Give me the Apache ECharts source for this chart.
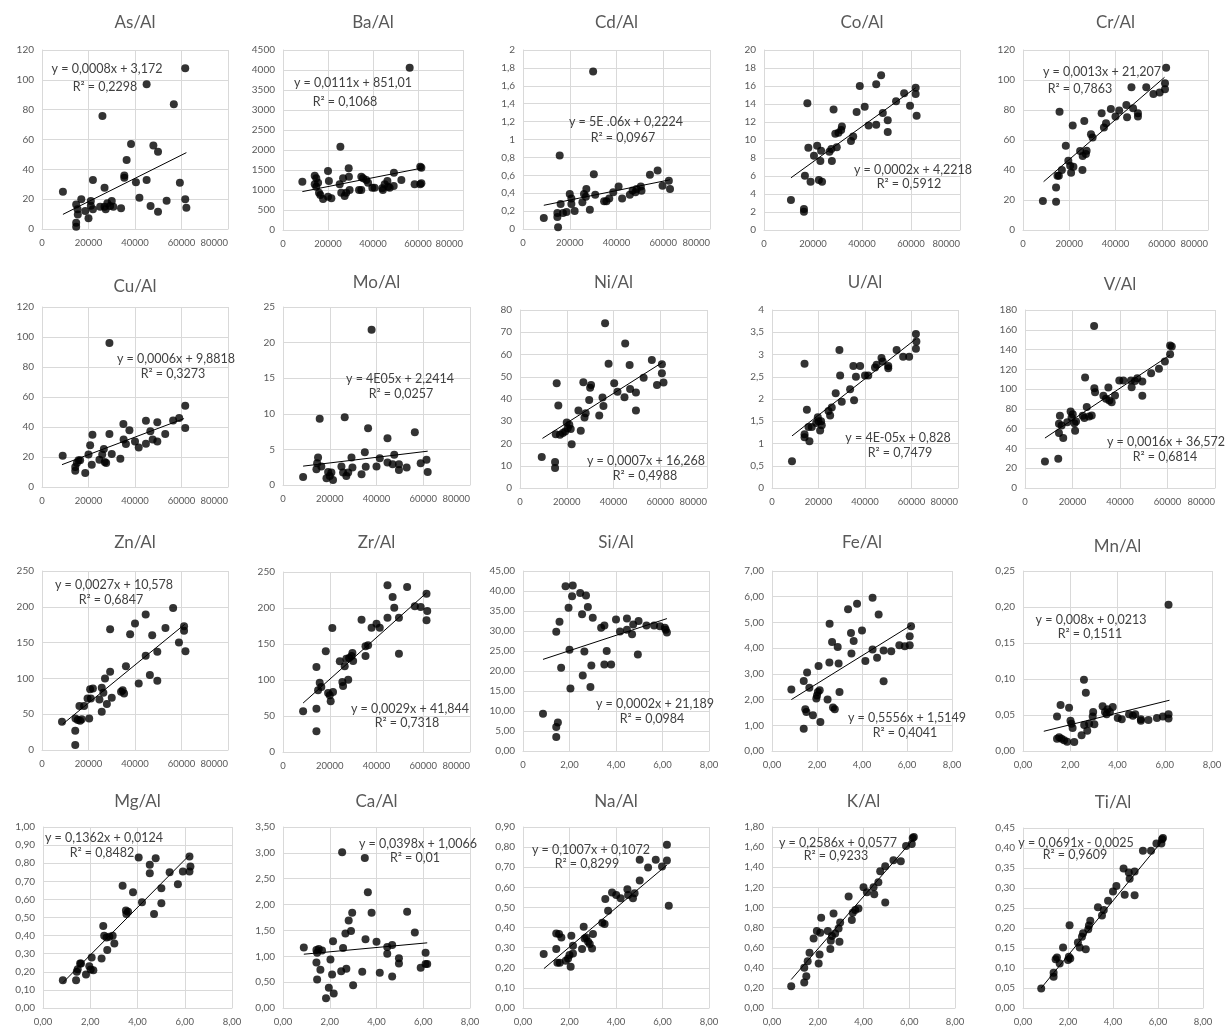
<!DOCTYPE html>
<html><head><meta charset="utf-8">
<script src="https://cdn.jsdelivr.net/npm/echarts@6/dist/echarts.min.js"></script>
<style>html,body{margin:0;padding:0;background:#fff}#c{width:1228px;height:1030px}</style>
</head><body><div id="c"></div><script>
// ---------- DATA ----------
const names = ['As/Al','Ba/Al','Cd/Al','Co/Al','Cr/Al','Cu/Al','Mo/Al','Ni/Al','U/Al','V/Al','Zn/Al','Zr/Al','Si/Al','Fe/Al','Mn/Al','Mg/Al','Ca/Al','Na/Al','K/Al','Ti/Al'];

const asAl = [[9000,25],[14700,4.2],[14700,1.5],[14700,16.5],[15400,9.8],[15300,13.2],[16900,19.9],[18600,12],[20000,7.2],[21000,18.8],[21000,15.6],[21900,32.8],[21900,13.2],[25000,15],[26000,75.8],[26900,27.7],[26900,15],[27400,13.2],[28100,17.2],[29300,15.4],[30000,18.8],[30700,15],[34000,13.9],[35400,35.8],[35400,34.4],[36400,46.3],[38300,57],[40400,31.3],[41900,21],[45000,32.8],[45000,97],[46700,15.4],[47900,55.9],[49900,51.8],[49900,11.6],[53600,19],[56700,83.6],[59300,31],[61600,107.7],[61600,19.9],[62100,14.3]];
const baAl = [[8600,1208],[14100,1358],[14800,1292],[14100,1142],[14800,1083],[15600,1183],[16000,933],[16600,875],[17800,775],[20000,1475],[20400,1225],[20000,833],[21500,792],[25500,2083],[25200,1142],[25900,933],[26700,1292],[27400,850],[28100,933],[29200,1542],[29300,1333],[29600,1000],[33800,1000],[34800,1000],[34800,1333],[35600,1292],[37000,1250],[37800,1183],[39700,1058],[40700,1058],[44100,1042],[45200,1142],[44400,1000],[46400,1225],[46700,1083],[47400,1058],[49300,1433],[49200,1100],[52600,1250],[56300,4058],[58500,1142],[61000,1142],[61000,1583],[61500,1558],[61500,1170]];
const cdAl = [[8900,0.123],[14700,0.134],[14700,0.178],[15000,0.02],[15700,0.82],[16100,0.28],[17100,0.178],[18600,0.19],[20000,0.39],[20700,0.34],[20700,0.28],[22100,0.2],[25400,0.30],[26100,0.39],[27100,0.446],[26900,0.36],[28600,0.215],[30000,1.76],[30300,0.613],[30900,0.383],[34700,0.31],[35700,0.31],[36900,0.34],[38600,0.41],[40900,0.476],[42400,0.34],[45700,0.383],[46900,0.43],[48100,0.41],[48600,0.446],[50400,0.476],[50700,0.428],[54300,0.606],[57600,0.654],[59700,0.483],[62400,0.539],[62900,0.446]];
const coAl = [[11000,3.33],[16300,2.33],[16300,2.04],[16700,6.04],[17700,14.07],[18100,9.15],[19000,5.37],[20400,8.26],[21700,9.37],[22400,5.56],[23000,7.67],[23300,8.81],[23700,5.37],[26700,8.7],[27500,9.0],[27700,7.67],[28400,13.4],[29100,10.7],[29700,9.2],[30400,10.8],[31500,11.1],[31800,11.5],[35500,9.9],[36400,10.4],[37800,13.1],[39100,16.0],[41100,13.7],[42700,11.6],[45800,16.2],[45800,11.7],[47800,17.2],[48500,13.0],[50500,12.2],[50500,10.9],[53900,14.3],[57200,15.2],[59600,13.8],[61900,15.8],[61900,15.1],[62300,12.7]];
const crAl = [[8600,19.3],[14300,18.9],[14300,28.4],[14900,36.2],[15500,36.2],[15800,78.9],[16800,40],[18500,56.2],[19600,46.2],[20400,42.9],[20800,38.2],[21500,69.6],[21800,42.2],[24700,52.7],[25700,40],[25800,49.3],[26500,72.7],[27200,50.7],[27500,52.9],[29400,63.8],[30100,61.6],[34000,77.8],[35000,68.4],[35900,71.1],[38000,80.7],[40000,75.6],[41600,79.6],[44700,83.3],[45000,75.1],[46900,95.1],[47600,81.1],[49700,77.8],[49700,75.6],[53300,95.1],[56400,90.7],[59100,91.6],[61400,97.8],[61400,93.8],[61900,108.2]];
const cuAl = [[8900,20.9],[14300,13.3],[14300,10.9],[15000,16],[15700,17.8],[16400,17.8],[18600,9.3],[20000,21.6],[20700,27.8],[21400,14.9],[21700,34.9],[24700,18.2],[25900,21.6],[26600,25.3],[27000,16.7],[27600,16],[29000,35.3],[30000,22],[29000,96],[33700,18.9],[35000,42],[35100,31.6],[36100,28.7],[37600,37.8],[40000,30.4],[41600,26.4],[44700,44.2],[44700,28.9],[46600,37.1],[47600,31.6],[49600,43.1],[49600,30.4],[53000,35.3],[56400,44.4],[59000,46],[61600,39.3],[61600,54.2]];
const moAl = [[8600,1.13],[14300,2.2],[14600,3.07],[15000,3.87],[15700,9.3],[16400,2.6],[18600,0.94],[19300,1.84],[20000,1.27],[20700,1.75],[21400,0.71],[25000,2.6],[25700,1.75],[26400,9.5],[27100,1.27],[27900,1.75],[29300,3.87],[29700,2.45],[33600,1.5],[35000,4.6],[35400,2.55],[36400,7.97],[37900,21.8],[40000,2.6],[41400,3.77],[44700,6.56],[44700,3.16],[46900,2.92],[47600,4.25],[49600,2.92],[49600,2.12],[52900,2.45],[56400,7.4],[58900,3.07],[61400,3.54],[61900,1.84]];
const niAl = [[9300,13.9],[15000,11.7],[15000,9],[15300,24.2],[15700,47.1],[16400,37.1],[17100,23.9],[18300,24.7],[19300,25.4],[20000,29.4],[20400,26.9],[21100,28.4],[21700,26.5],[22100,19.7],[25000,34.8],[26000,25.7],[27100,47.5],[27600,31.7],[28100,33.6],[29600,39.6],[30000,45.1],[30400,46.3],[33900,32.6],[35300,40.7],[35700,36.9],[36400,74],[37900,55.8],[40300,47.1],[41700,43.3],[44700,40.8],[45000,65],[46900,55.3],[47100,44.5],[49600,42.9],[49600,34.8],[52900,49.6],[56400,57.5],[58600,46.3],[60700,55.6],[60700,51.6],[61400,47.4]];
const uAl = [[8600,0.6],[14000,1.21],[14000,1.14],[14000,2.79],[15000,1.76],[15700,1.37],[16100,1.05],[17100,1.37],[19000,1.46],[19700,1.59],[20000,1.5],[20700,1.29],[21100,1.5],[21400,1.41],[24300,1.73],[25000,1.63],[25700,1.81],[27400,2.13],[29000,3.1],[29300,2.53],[30000,1.94],[33600,2.22],[35000,2.74],[35300,1.97],[36100,2.5],[37900,2.74],[40000,2.53],[41400,2.53],[44300,2.71],[45000,2.77],[47100,2.92],[47600,2.84],[50000,2.74],[50000,2.69],[53600,3.1],[56400,2.95],[59000,2.95],[61900,3.46],[62100,3.29],[61900,3.13]];
const vAl = [[8400,26.9],[14000,29.6],[14300,55.5],[14300,64.9],[14700,73],[15400,63.3],[16100,50.5],[17800,66.6],[19200,77.4],[19600,71.3],[20100,74.7],[20800,65.6],[21100,57.9],[21500,67.3],[24300,73],[25000,70.7],[25300,111.7],[26000,81.8],[27000,72.3],[28100,73.4],[29100,163.9],[29200,100.9],[29500,96.9],[33000,93.2],[34100,90.2],[35100,101.6],[35500,88.5],[36500,86.8],[37900,93.5],[39700,108.7],[41400,108.7],[44600,108.7],[44900,102],[46300,108.3],[47300,111],[49400,107.7],[49400,93.2],[53100,116.1],[56400,120.5],[58900,127.9],[61100,135.3],[61100,144],[61800,143]];
const znAl = [[8600,39.5],[14300,27],[14300,7],[14400,44],[15400,41.8],[16100,61.3],[16400,40.9],[17100,42.8],[18100,61.3],[19600,72],[20300,44.1],[20700,85],[21000,72],[21900,86],[24700,70.6],[25700,86.9],[25700,53.4],[26400,79.9],[27100,99.9],[27900,64.1],[29300,109.2],[29300,168.7],[30000,73],[34000,81.3],[34700,83.6],[35300,79],[36100,117.1],[37900,161.7],[40000,176.6],[41600,92.9],[44600,131.5],[44600,189.1],[46400,104.6],[47400,160.3],[49600,137.1],[49600,96.7],[53100,170.5],[56400,198.4],[58900,150.1],[61100,172.9],[61100,166.4],[61700,138]];
const zrAl = [[8600,56.5],[14300,118],[14300,60.2],[14300,28.7],[15000,85.6],[15700,96.3],[16400,90.3],[18300,139.8],[19300,81.9],[20000,78.7],[20400,70.4],[21100,172.2],[21400,83.3],[24300,125.9],[25400,97.2],[25700,91.7],[26400,119],[27100,129.6],[27900,100.5],[28300,130.6],[29300,133.3],[29700,137.5],[30000,126.4],[33600,183.8],[35300,133.3],[35300,146.8],[36400,148.1],[37900,172.7],[40000,178.2],[41400,172.7],[44700,231.5],[44700,186.6],[46900,215.3],[47600,200.5],[49600,186.6],[49600,136.6],[53100,229.2],[56400,202.3],[58900,201.4],[61400,219.9],[61700,195.8],[61400,182.9]];
const siAl = [[0.86,9.33],[1.43,29.8],[1.43,6.0],[1.43,3.5],[1.5,7.1],[1.57,32.3],[1.64,20.8],[1.83,41.2],[1.96,35.8],[2.0,25.3],[2.04,15.6],[2.11,38.7],[2.14,41.4],[2.46,39.5],[2.54,34.2],[2.57,18.9],[2.64,24.9],[2.71,38.9],[2.79,36],[2.9,16],[2.94,21.4],[3.0,33.3],[3.36,30.8],[3.5,31.4],[3.5,21.6],[3.6,25],[3.79,21.6],[4.0,32.9],[4.17,29.9],[4.47,33.1],[4.47,30.3],[4.69,29.2],[4.74,31.6],[4.94,24.1],[4.97,32.5],[5.31,31.4],[5.64,31.4],[5.89,31.2],[6.1,30.8],[6.14,30.3],[6.19,29.6]];
const feAl = [[0.86,2.39],[1.41,2.72],[1.41,0.87],[1.48,1.62],[1.53,1.52],[1.56,3.05],[1.66,2.46],[1.82,1.39],[1.97,2.04],[2.0,2.16],[2.04,2.29],[2.07,3.31],[2.12,2.36],[2.15,1.13],[2.47,2.0],[2.55,3.44],[2.56,4.95],[2.67,4.24],[2.71,1.69],[2.79,1.62],[2.92,4.04],[2.96,3.40],[3.0,2.29],[3.38,5.51],[3.51,4.59],[3.53,3.79],[3.63,4.28],[3.78,5.73],[4.0,4.69],[4.15,3.5],[4.47,5.96],[4.47,3.95],[4.67,3.63],[4.74,5.31],[4.96,3.91],[4.96,2.71],[5.3,3.88],[5.66,4.11],[5.9,4.07],[6.12,4.11],[6.12,4.46],[6.18,4.85]];
const mnAl = [[1.44,0.048],[1.44,0.017],[1.53,0.019],[1.59,0.064],[1.63,0.017],[1.74,0.015],[1.87,0.013],[1.95,0.060],[2.01,0.042],[2.05,0.038],[2.1,0.032],[2.17,0.0125],[2.48,0.022],[2.58,0.099],[2.59,0.036],[2.66,0.081],[2.72,0.028],[2.8,0.038],[2.95,0.048],[2.97,0.054],[3.02,0.037],[3.37,0.062],[3.47,0.054],[3.54,0.051],[3.58,0.058],[3.68,0.054],[3.8,0.061],[4.01,0.046],[4.18,0.044],[4.49,0.051],[4.65,0.049],[4.75,0.051],[4.99,0.042],[4.99,0.044],[5.31,0.043],[5.67,0.046],[5.92,0.048],[6.16,0.051],[6.16,0.045],[6.16,0.203]];
const mgAl = [[0.84,0.153],[1.40,0.153],[1.43,0.2],[1.47,0.214],[1.57,0.246],[1.61,0.246],[1.82,0.185],[1.96,0.231],[2.02,0.213],[2.06,0.279],[2.13,0.209],[2.48,0.274],[2.55,0.453],[2.59,0.399],[2.69,0.39],[2.72,0.32],[2.81,0.394],[2.95,0.399],[3.02,0.357],[3.37,0.675],[3.51,0.538],[3.53,0.519],[3.6,0.532],[3.81,0.64],[4.05,0.832],[4.19,0.584],[4.52,0.791],[4.52,0.745],[4.7,0.519],[4.77,0.828],[5.01,0.662],[5.01,0.579],[5.36,0.75],[5.71,0.684],[5.92,0.754],[6.2,0.837],[6.2,0.754],[6.24,0.782]];
const caAl = [[0.89,1.17],[1.43,1.12],[1.46,1.07],[1.43,0.88],[1.46,0.55],[1.53,1.14],[1.6,0.74],[1.67,1.11],[1.84,0.19],[1.96,0.39],[2.03,0.94],[2.1,0.65],[2.14,1.29],[2.17,0.28],[2.49,0.71],[2.53,3.01],[2.57,1.16],[2.67,1.44],[2.71,0.76],[2.81,1.69],[2.91,1.49],[2.96,1.84],[3.0,0.44],[3.39,0.70],[3.5,2.90],[3.53,1.33],[3.63,2.24],[3.79,1.84],[4.0,1.28],[4.14,0.68],[4.46,1.18],[4.46,1.05],[4.67,1.22],[4.67,0.61],[4.96,0.96],[4.96,0.86],[5.31,1.86],[5.64,1.46],[5.89,0.78],[6.1,1.07],[6.1,0.85],[6.17,0.85]];
const naAl = [[0.89,0.268],[1.43,0.293],[1.43,0.371],[1.48,0.225],[1.55,0.368],[1.58,0.225],[1.65,0.351],[1.84,0.235],[1.94,0.246],[2.0,0.263],[2.05,0.205],[2.08,0.359],[2.15,0.309],[2.15,0.271],[2.54,0.293],[2.61,0.404],[2.65,0.346],[2.72,0.351],[2.8,0.329],[2.87,0.318],[2.97,0.296],[3.01,0.368],[3.41,0.424],[3.51,0.418],[3.54,0.542],[3.66,0.484],[3.83,0.574],[4.01,0.562],[4.2,0.546],[4.49,0.591],[4.52,0.562],[4.73,0.546],[4.8,0.571],[5.02,0.634],[5.02,0.737],[5.38,0.699],[5.71,0.737],[5.98,0.704],[6.19,0.734],[6.19,0.812],[6.27,0.509]];
const kAl = [[0.84,0.216],[1.41,0.253],[1.41,0.40],[1.5,0.316],[1.56,0.466],[1.64,0.549],[1.82,0.692],[1.96,0.765],[2.04,0.443],[2.08,0.532],[2.11,0.749],[2.15,0.898],[2.44,0.765],[2.55,0.586],[2.57,0.669],[2.62,0.715],[2.69,0.941],[2.76,0.742],[2.91,0.79],[2.95,0.66],[2.98,0.85],[3.35,1.11],[3.49,0.875],[3.53,0.948],[3.64,0.975],[3.78,0.99],[4.0,1.2],[4.15,1.15],[4.44,1.2],[4.47,1.13],[4.65,1.25],[4.73,1.36],[4.95,1.41],[4.95,1.05],[5.31,1.47],[5.63,1.46],[5.86,1.61],[6.11,1.63],[6.15,1.69],[6.2,1.70]];
const tiAl = [[0.81,0.049],[1.36,0.078],[1.36,0.088],[1.45,0.122],[1.51,0.126],[1.63,0.111],[1.78,0.151],[2.0,0.12],[2.04,0.128],[2.1,0.124],[2.07,0.207],[2.44,0.164],[2.52,0.151],[2.62,0.178],[2.67,0.187],[2.79,0.147],[2.9,0.197],[2.93,0.206],[2.99,0.218],[3.33,0.252],[3.51,0.231],[3.59,0.245],[3.78,0.268],[4.0,0.291],[4.15,0.305],[4.47,0.349],[4.52,0.283],[4.7,0.339],[4.74,0.323],[4.96,0.341],[4.96,0.282],[5.33,0.393],[5.69,0.393],[5.93,0.411],[6.15,0.411],[6.18,0.422],[6.22,0.425]];
const seriesData = [asAl,baAl,cdAl,coAl,crAl,cuAl,moAl,niAl,uAl,vAl,znAl,zrAl,siAl,feAl,mnAl,mgAl,caAl,naAl,kAl,tiAl];

// trendline end points
const trends = [
 [[9000,9.8],[62100,51.2]], [[8600,960],[61500,1545]], [[8900,0.265],[62900,0.55]], [[11000,5.8],[61900,15.8]], [[8900,32.2],[61200,101.8]],
 [[8600,14.9],[61100,45.6]], [[8600,2.65],[61900,4.75]], [[9600,22.3],[61000,56.5]], [[8600,1.17],[61900,3.35]], [[8400,50.5],[61100,134.6]],
 [[8900,36.2],[61400,175.6]], [[8600,68],[61400,221]], [[0.86,22.9],[6.19,33.1]], [[0.86,2.0],[6.18,4.89]], [[0.88,0.0274],[6.2,0.0705]],
 [[0.84,0.14],[6.2,0.845]], [[0.89,1.04],[6.17,1.26]], [[0.9,0.196],[6.2,0.712]], [[0.84,0.283],[6.2,1.683]], [[0.81,0.05],[6.22,0.42]]
];
const equations = ['y = 0,0008x + 3,172','y = 0,0111x + 851,01','y = 5E .06x + 0,2224','y = 0,0002x + 4,2218','y = 0,0013x + 21,207',
 'y = 0,0006x + 9,8818','y = 4E05x + 2,2414','y = 0,0007x + 16,268','y = 4E-05x + 0,828','y = 0,0016x + 36,572',
 'y = 0,0027x + 10,578','y = 0,0029x + 41,844','y = 0,0002x + 21,189','y = 0,5556x + 1,5149','y = 0,008x + 0,0213',
 'y = 0,1362x + 0,0124','y = 0,0398x + 1,0066','y = 0,1007x + 0,1072','y = 0,2586x + 0,0577','y = 0,0691x - 0,0025'];
const r2Texts = ['R² = 0,2298','R² = 0,1068','R² = 0,0967','R² = 0,5912','R² = 0,7863','R² = 0,3273','R² = 0,0257','R² = 0,4988','R² = 0,7479','R² = 0,6814',
 'R² = 0,6847','R² = 0,7318','R² = 0,0984','R² = 0,4041','R² = 0,1511','R² = 0,8482','R² = 0,01','R² = 0,8299','R² = 0,9233','R² = 0,9609'];

// axis scales (tick values)
const yMaxes = [120,4500,2,20,120,120,25,80,4,180,250,250,45,7,0.25,1,3.5,0.9,1.8,0.45];
const yIntervals = [20,500,0.2,2,20,20,5,10,0.5,20,50,50,5,1,0.05,0.1,0.5,0.1,0.2,0.05];
const yFormats = ['int','int','gen','int','int','int','int','int','gen','int','int','int','dec2','dec2','dec2','dec2','dec2','dec2','dec2','dec2'];
const xMaxes = [80000,80000,80000,80000,80000,80000,80000,80000,80000,80000,80000,80000,8,8,8,8,8,8,8,8];
const xIntervals = [20000,20000,20000,20000,20000,20000,20000,20000,20000,20000,20000,20000,2,2,2,2,2,2,2,2];
const xFormats = ['int','int','int','int','int','int','int','int','int','int','int','int','si','dec2','dec2','dec2','dec2','dec2','dec2','dec2'];

// ---------- LAYOUT (pixels) ----------
const boxes = [
 [42,50,228,229],[283,50,463,230],[523,50,710,229],[764,50,960,230],[1023,50,1208,230],
 [42,307,228,487],[283,307,470,485],[520,310,707,488],[772,310,958,488],[1025,310,1215,488],
 [42,571,228,750],[283,572,470,752],[523,571,709,751],[772,571,952,751],[1023,571,1212,751],
 [43,827,232,1008],[283,827,470,1008],[523,827,709,1008],[772,827,955,1008],[1023,828,1203,1008]
];
const titleYs = [23,23,23,23,23,287,283,283,283,285,543,543,543,543,547,802,802,802,802,803];
const eqPos = [[107,69],[353,83],[626,122],[913,170],[1102,72],[176,359],[400,379],[646,461],[898,438],[1166,442],
 [114,585],[410,709],[655,704],[907,718],[1091,620],[104,838],[418,844],[591,850],[838,843],[1076,843]];
const r2Pos = [[105,87],[345,102],[623,138],[909,184],[1080,89],[173,374],[401,394],[645,476],[900,453],[1165,457],
 [111,600],[407,723],[652,719],[905,733],[1090,634],[102,853],[415,858],[587,864],[836,856],[1075,855]];

const FONT = 'Lato, "Liberation Sans", sans-serif';
const fmt = {
  int: v => String(Math.round(v)),
  gen: v => String(Math.round(v*100)/100).replace('.', ','),
  dec2: v => v.toFixed(2).replace('.', ','),
  si: v => (v === 0 ? '0' : v.toFixed(2).replace('.', ','))
};

const grid = [], xAxis = [], yAxis = [], series = [], graphic = [];
names.forEach((name, i) => {
  const [l, t, r, b] = boxes[i];
  grid.push({left: l, top: t, width: r - l, height: b - t, containLabel: false});
  const lineCol = '#d9d9d9';
  xAxis.push({
    type: 'value', gridIndex: i, min: 0, max: xMaxes[i], interval: xIntervals[i],
    axisLine: {show: true, lineStyle: {color: lineCol, width: 1}},
    axisTick: {show: false},
    splitLine: {show: true, lineStyle: {color: lineCol, width: 1}},
    axisLabel: {color: '#595959', fontFamily: FONT, fontSize: 9.5, margin: 9, hideOverlap: false,
      formatter: fmt[xFormats[i]], alignMaxLabel: xFormats[i] === 'int' ? 'right' : 'center', showMaxLabel: true, showMinLabel: true}
  });
  yAxis.push({
    type: 'value', gridIndex: i, min: 0, max: yMaxes[i], interval: yIntervals[i],
    axisLine: {show: true, lineStyle: {color: lineCol, width: 1}},
    axisTick: {show: false},
    splitLine: {show: true, lineStyle: {color: lineCol, width: 1}},
    axisLabel: {color: '#595959', fontFamily: FONT, fontSize: 10, margin: 8, hideOverlap: false, formatter: fmt[yFormats[i]]}
  });
  series.push({
    type: 'scatter', xAxisIndex: i, yAxisIndex: i, data: seriesData[i],
    symbol: 'circle', symbolSize: 8, itemStyle: {color: '#000'}, silent: true, z: 3
  });
  series.push({
    type: 'line', xAxisIndex: i, yAxisIndex: i, data: trends[i], symbol: 'none',
    lineStyle: {color: '#000', width: 1}, silent: true, z: 2
  });
  graphic.push({type: 'text', x: (l + r) / 2, y: titleYs[i], z: 100,
    style: {text: name, fill: '#595959', font: '17px ' + FONT, textAlign: 'center', textVerticalAlign: 'middle'}});
  graphic.push({type: 'text', x: eqPos[i][0], y: eqPos[i][1], z: 100,
    style: {text: equations[i], fill: '#404040', font: '12.5px ' + FONT, textAlign: 'center', textVerticalAlign: 'middle'}});
  graphic.push({type: 'text', x: r2Pos[i][0], y: r2Pos[i][1], z: 100,
    style: {text: r2Texts[i], fill: '#404040', font: '12.5px ' + FONT, textAlign: 'center', textVerticalAlign: 'middle'}});
});

const chart = echarts.init(document.getElementById('c'), null, {renderer: 'canvas'});
chart.setOption({animation: false, backgroundColor: '#fff', grid, xAxis, yAxis, series, graphic});
</script></body></html>
